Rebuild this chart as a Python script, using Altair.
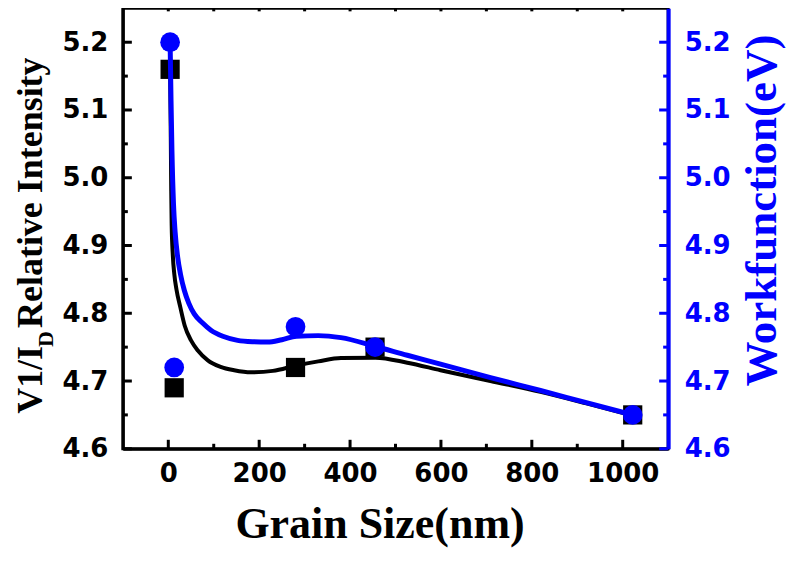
import altair as alt
import pandas as pd

# ---- measured data points ----
grain_sq = [4, 13, 280, 455, 1022]
intensity = [5.16, 4.69, 4.72, 4.75, 4.65]
grain_ci = [4, 13, 280, 455, 1022]
workfunc = [5.20, 4.72, 4.78, 4.75, 4.65]

# ---- fitted curves ----
black_x = [4, 5.5, 6.5, 7.4, 10, 13.2, 18, 26.4, 36, 50, 65, 87, 115, 145, 182, 230,
           282, 330, 380, 456, 526, 599, 709, 819, 920, 1022]
black_y = [5.16, 5.06, 4.98, 4.932, 4.885, 4.858, 4.835, 4.809, 4.782, 4.760, 4.745,
           4.7305, 4.721, 4.716, 4.713, 4.715, 4.723, 4.729, 4.734, 4.7345, 4.727,
           4.716, 4.700, 4.684, 4.667, 4.649]
blue_x = [4, 6, 8, 11.5, 15, 20.6, 27, 35.2, 45, 57.1, 75, 93.8, 120, 152.5, 185,
          218.5, 250, 282, 330, 380, 456, 526, 599, 709, 819, 920, 1022]
blue_y = [5.20, 5.114, 5.04, 4.96, 4.92, 4.883, 4.857, 4.834, 4.815, 4.799, 4.786,
          4.775, 4.766, 4.760, 4.758, 4.7575, 4.761, 4.766, 4.767, 4.764, 4.751,
          4.738, 4.725, 4.705, 4.686, 4.668, 4.65]

# ---- axis ticks ----
x_major = [0, 200, 400, 600, 800, 1000]
x_minor = [100, 300, 500, 700, 900]
x_top = [0, 100, 200, 300, 400, 500, 600, 700, 800, 900, 1000]
y_major = [4.6, 4.7, 4.8, 4.9, 5.0, 5.1, 5.2]
y_minor = [4.65, 4.75, 4.85, 4.95, 5.05, 5.15]
ytitle_parts = ["V1/I", "D", "Relative Intensity"]

BLUE = "#0000FF"
W, H = 546, 441
xs = alt.Scale(domain=[-100, 1100], nice=False, zero=False)
ys = alt.Scale(domain=[4.6, 5.25], nice=False, zero=False)

black_df = pd.DataFrame({"x": black_x, "y": black_y})
blue_df = pd.DataFrame({"x": blue_x, "y": blue_y})
sq_df = pd.DataFrame({"x": grain_sq, "y": intensity})
ci_df = pd.DataFrame({"x": grain_ci, "y": workfunc})

x_axis = alt.Axis(orient="bottom", values=x_major, format="d", grid=False, ticks=False,
                  domainColor="black", domainWidth=3,
                  labelFont="DejaVu Sans", labelFontWeight="bold", labelFontSize=26,
                  labelColor="black", labelPadding=12, labelFlush=False,
                  title="Grain Size(nm)", titleFont="Liberation Serif",
                  titleFontWeight="bold", titleFontSize=44, titleColor="black",
                  titleX=257, titleY=89, titleAlign="center", titleBaseline="alphabetic")
left_axis = alt.Axis(orient="left", values=y_major, format=".1f", grid=False, ticks=False,
                     domainColor="black", domainWidth=3,
                     labelFont="DejaVu Sans", labelFontWeight="bold", labelFontSize=26,
                     labelColor="black", labelPadding=15, labelFlush=False, title="")
right_axis = alt.Axis(orient="right", values=y_major, format=".1f", grid=False, ticks=False,
                      domainColor=BLUE, domainWidth=4,
                      labelFont="DejaVu Sans", labelFontWeight="bold", labelFontSize=26,
                      labelColor=BLUE, labelPadding=16, labelFlush=False,
                      title="Workfunction(eV)", titleFont="Liberation Serif",
                      titleFontWeight="bold", titleFontSize=45, titleColor=BLUE,
                      titleAngle=270, titleX=107, titleY=202, titleAlign="center",
                      titleBaseline="alphabetic")

X = alt.X("x:Q", scale=xs, axis=x_axis)

black_line = alt.Chart(black_df).mark_line(color="black", strokeWidth=4, interpolate="monotone").encode(
    x=X, y=alt.Y("y:Q", scale=ys, axis=left_axis),
)
squares = alt.Chart(sq_df).mark_square(color="black", size=370, opacity=1).encode(
    x=X, y=alt.Y("y:Q", scale=ys, axis=None),
)
blue_line = alt.Chart(blue_df).mark_line(color=BLUE, strokeWidth=5, interpolate="monotone").encode(
    x=X, y=alt.Y("y:Q", scale=ys, axis=right_axis),
)
circles = alt.Chart(ci_df).mark_circle(color=BLUE, size=390, opacity=1).encode(
    x=X, y=alt.Y("y:Q", scale=ys, axis=None),
)


def yticks(vals, x0, x1, color, width=3):
    return alt.Chart(pd.DataFrame({"v": vals})).mark_rule(color=color, strokeWidth=width).encode(
        y=alt.Y("v:Q", scale=ys, axis=None), x=alt.value(x0), x2=alt.value(x1))


def xticks(vals, y0, y1):
    return alt.Chart(pd.DataFrame({"x": vals})).mark_rule(color="black", strokeWidth=3).encode(
        x=X, y=alt.value(y0), y2=alt.value(y1))


def title_piece(txt, x, y, size):
    return alt.Chart(pd.DataFrame({"t": [txt]})).mark_text(
        angle=270, align="left", baseline="alphabetic", font="Liberation Serif",
        fontWeight="bold", fontSize=size, color="black").encode(
        text="t:N", x=alt.value(x), y=alt.value(y))


chart = alt.layer(
    black_line, squares, blue_line, circles,
    yticks(y_major, 0, 9, "black"), yticks(y_minor, 0, 5, "black"),
    yticks(y_major, W, W - 9, BLUE), yticks(y_minor, W, W - 5, BLUE),
    xticks(x_major, H, H - 9), xticks(x_minor, H, H - 5), xticks(x_top, 0, 3),
    title_piece(ytitle_parts[0], -81, 406, 36),
    title_piece(ytitle_parts[1], -70, 339, 22),
    title_piece(ytitle_parts[2], -81, 320, 36),
).resolve_scale(y="independent").properties(
    width=W, height=H,
    autosize=alt.AutoSizeParams(type="none"),
    padding={"left": 115, "top": 0, "right": 119, "bottom": 100},
    background="white",
).configure_view(stroke="black", strokeWidth=3)

chart.save("out.html", embed_options={"renderer": "svg", "actions": False})
